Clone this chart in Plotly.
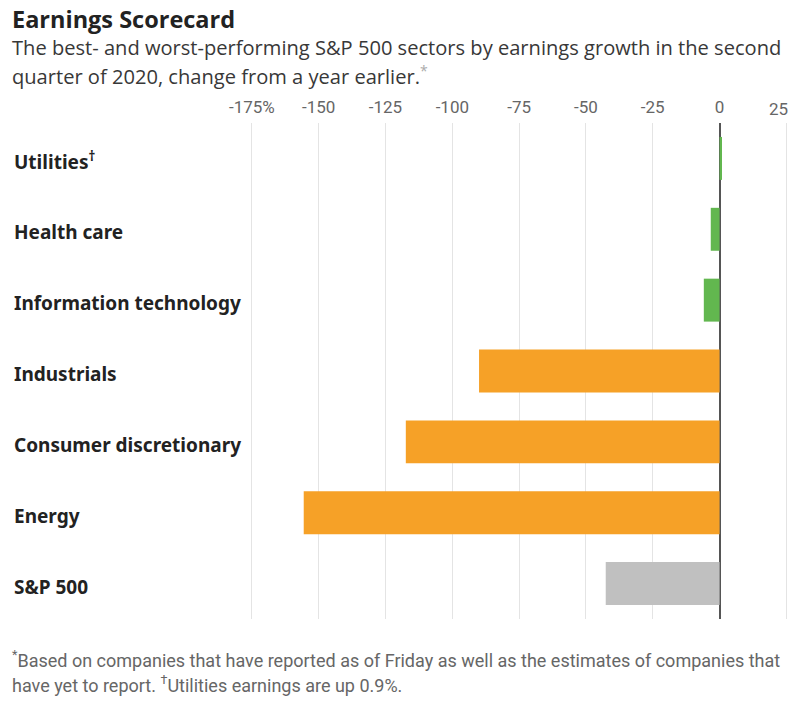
import plotly.graph_objects as go

categories = ["Utilities", "Health care", "Information technology", "Industrials",
              "Consumer discretionary", "Energy", "S&P 500"]
label_text = ["Utilities<sup>†</sup>", "Health care", "Information technology", "Industrials",
              "Consumer discretionary", "Energy", "S&P 500"]
values = [0.9, -3.3, -5.9, -90.0, -117.4, -155.6, -42.6]
bar_colors = ["#62b74f", "#62b74f", "#62b74f", "#f6a127", "#f6a127", "#f6a127", "#c0c0c0"]
tick_vals = [-175, -150, -125, -100, -75, -50, -25, 0, 25]
tick_text = ["-175%", "-150", "-125", "-100", "-75", "-50", "-25", "0", ""]

W, H = 796, 701
top, bottom = 122.5, 619.5
plot_left, plot_right = 250, 788
ph = bottom - top
pw = plot_right - plot_left


def py(pix):
    return (bottom - pix) / ph


def px(pix):
    return (pix - plot_left) / pw


fig = go.Figure()
fig.add_trace(go.Bar(
    x=values, y=categories, orientation="h",
    marker=dict(color=bar_colors, line=dict(width=0)),
    hoverinfo="x+y",
))

annotations = []
for cat, txt in zip(categories, label_text):
    annotations.append(dict(
        x=px(12), xref="paper", y=cat, yref="y", text="<b>" + txt + "</b>", showarrow=False,
        xanchor="left", yanchor="middle", yshift=-3,
        font=dict(family="Noto Sans", size=19, color="#222222"),
    ))

annotations.append(dict(
    x=px(9.5), xref="paper", y=py(18), yref="paper",
    text="<b>Earnings Scorecard</b>", showarrow=False, xanchor="left", yanchor="middle",
    font=dict(family="Open Sans", size=23.5, color="#222222"),
))
sub_lines = ["The best- and worst-performing S&P 500 sectors by earnings growth in the second",
             "quarter of 2020, change from a year earlier.<sup><span style='color:#aaa'>*</span></sup>"]
for i, line in enumerate(sub_lines):
    annotations.append(dict(
        x=px(10), xref="paper", y=py(47 + 27.5 * i), yref="paper", text=line,
        showarrow=False, xanchor="left", yanchor="middle", align="left",
        font=dict(family="Open Sans", size=20.1, color="#383838"),
    ))
foot_lines = ["<sup>*</sup>Based on companies that have reported as of Friday as well as the estimates of companies that",
              "have yet to report. <sup>†</sup>Utilities earnings are up 0.9%."]
for i, line in enumerate(foot_lines):
    annotations.append(dict(
        x=px(10), xref="paper", y=py(660 + 25 * i), yref="paper", text=line,
        showarrow=False, xanchor="left", yanchor="middle", align="left",
        font=dict(family="Roboto", size=18, color="#666666"),
    ))
# last tick label, kept inside the figure
annotations.append(dict(
    x=25, xref="x", y=py(108), yref="paper", text="25", showarrow=False,
    xanchor="right", yanchor="middle", xshift=4,
    font=dict(family="Roboto", size=17, color="#666666"),
))

fig.update_layout(
    width=W, height=H,
    margin=dict(l=plot_left, r=W - plot_right, t=top, b=H - bottom, pad=0),
    paper_bgcolor="white", plot_bgcolor="white",
    showlegend=False, bargap=0.394,
    annotations=annotations,
    xaxis=dict(
        range=[-175.7, 25.6], side="top", tickmode="array",
        tickvals=tick_vals, ticktext=tick_text,
        showgrid=True, gridcolor="#e4e4e4", gridwidth=1,
        zeroline=True, zerolinecolor="#555555", zerolinewidth=2,
        showline=False, ticks="", ticklabelstandoff=6,
        tickfont=dict(family="Roboto", size=17, color="#666666"),
        fixedrange=True,
    ),
    yaxis=dict(
        categoryorder="array", categoryarray=categories, autorange="reversed",
        showticklabels=False, showgrid=False, zeroline=False, showline=False, ticks="",
        fixedrange=True,
    ),
)

fig.write_html("out.html", config={"displayModeBar": False},
               post_script="document.body.style.margin='0';")
